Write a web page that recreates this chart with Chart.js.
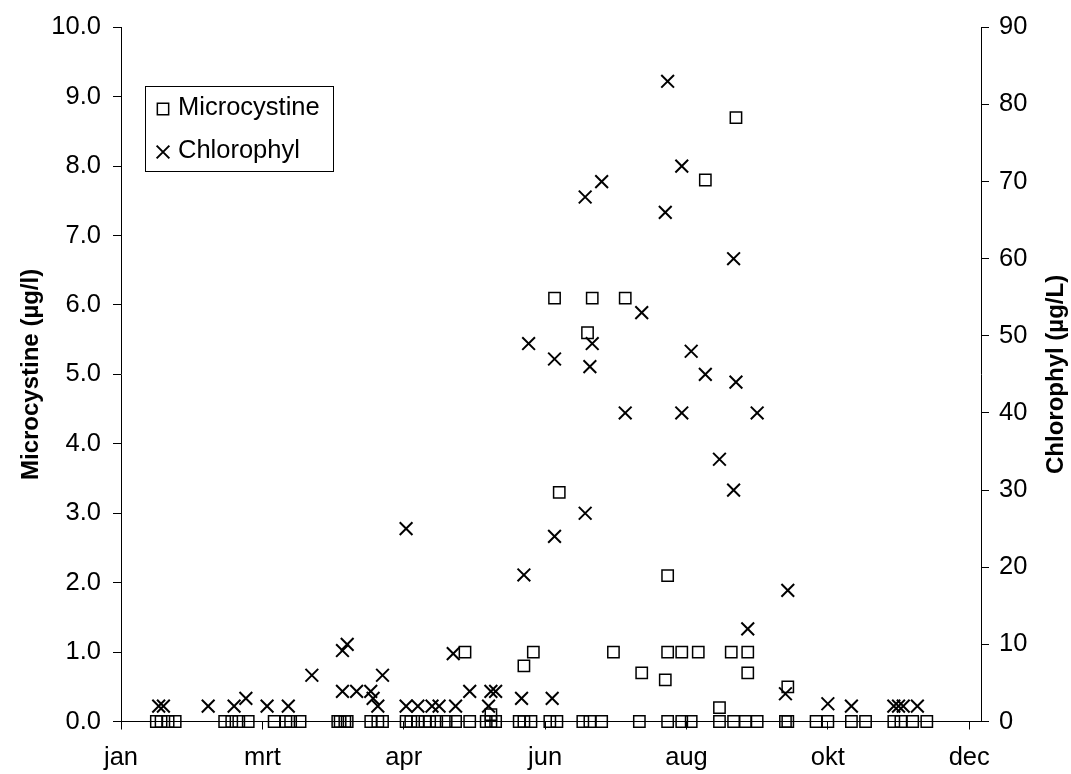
<!DOCTYPE html>
<html>
<head>
<meta charset="utf-8">
<script src="https://cdn.jsdelivr.net/npm/chart.js@4.4.0/dist/chart.umd.min.js"></script>
<style>
  html, body { margin: 0; padding: 0; background: #fff; }
  #wrap { width: 1071px; height: 774px; }
</style>
</head>
<body>
<div id="wrap"><canvas id="chart" width="1071" height="774"></canvas></div>
<script>
// x-as: dag van het jaar, label elke 60 dagen
const monthLabels = ['jan', 'mrt', 'apr', 'jun', 'aug', 'okt', 'dec'];

// Microcystine (ug/l)
const mcDays = [
  15, 17, 20, 23, 44, 47, 50, 54, 65, 70, 72, 76, 92, 93, 95, 96,
  106, 109, 111, 121, 123, 126, 129, 131, 134, 138, 142, 146, 148,
  155, 157, 157, 159, 169, 171, 171, 174, 175, 182, 184, 185, 186,
  196, 198, 199, 200, 204, 209, 214, 220, 221, 231, 232, 232, 232,
  238, 238, 242, 245, 248, 254, 254, 259, 260, 261, 265, 266, 266,
  270, 282, 283, 283, 295, 300, 310, 316, 328, 331, 336, 342
];
const mcValues = [
  0, 0, 0, 0, 0, 0, 0, 0, 0, 0, 0, 0, 0, 0, 0, 0,
  0, 0, 0, 0, 0, 0, 0, 0, 0, 0, 0, 1.0, 0,
  0, 0, 0.1, 0, 0, 0, 0.8, 0, 1.0, 0, 6.1, 0, 3.3,
  0, 5.6, 0, 6.1, 0, 1.0, 6.1, 0, 0.7, 0.6, 1.0, 2.1, 0,
  0, 1.0, 0, 1.0, 7.8, 0, 0.2, 1.0, 0, 8.7, 0, 1.0, 0.7,
  0, 0, 0, 0.5, 0, 0, 0, 0, 0, 0, 0, 0
];

// Chlorophyl (ug/L)
const chlDays = [
  16, 18, 37, 48, 53, 62, 71, 81, 94, 96, 94, 100, 106, 107, 109, 111,
  121, 121, 126, 132, 135, 141, 142, 148, 156, 157, 159, 170, 171, 173,
  183, 184, 184, 197, 197, 199, 200, 204, 214, 221, 231, 232, 238, 238,
  242, 248, 254, 260, 260, 261, 266, 270, 282, 283, 300, 310, 328, 330,
  332, 338
];
const chlValues = [
  2, 2, 2, 2, 3, 2, 2, 6, 9.2, 10, 3.9, 3.9, 3.9, 3, 2, 6,
  25, 2, 2, 2, 2, 8.8, 2, 3.9, 2, 3.9, 3.9, 3, 19, 49,
  3, 24, 47, 27, 68, 46, 49, 70, 40, 53, 66, 83, 72, 40,
  48, 45, 34, 30, 60, 44, 12, 40, 3.6, 17, 2.3, 2, 2, 2,
  2, 2
];

const yTitle = 'Microcystine (\u00b5g/l)';
const y2Title = 'Chlorophyl (\u00b5g/L)';

const FONT = 'Arial, "Liberation Sans", sans-serif';
const FONT_SIZE = 25.5;
Chart.defaults.font.family = FONT;
Chart.defaults.font.size = FONT_SIZE;
Chart.defaults.color = '#000';

const mcPoints = mcDays.map((d, i) => ({ x: d, y: mcValues[i] }));
const chlPoints = chlDays.map((d, i) => ({ x: d, y: chlValues[i] }));

function marker(ctx, style, radius, width, x, y) {
  ctx.save();
  ctx.strokeStyle = '#000';
  ctx.fillStyle = 'rgba(0,0,0,0)';
  ctx.lineWidth = width;
  Chart.helpers.drawPoint(ctx, { pointStyle: style, radius: radius, borderWidth: width, rotation: 0 }, x, y);
  ctx.restore();
}

// titels van de y-assen + legenda (rechtse titel moet van onder naar boven lezen)
const extras = {
  id: 'extras',
  afterDraw(chart) {
    const { ctx, chartArea } = chart;
    const midY = (chartArea.top + chartArea.bottom) / 2;

    ctx.save();
    ctx.font = 'bold 24px ' + FONT;
    ctx.fillStyle = '#000';
    ctx.textAlign = 'center';
    ctx.textBaseline = 'middle';
    [[31, yTitle], [1056, y2Title]].forEach(([x, t]) => {
      ctx.save();
      ctx.translate(x, midY);
      ctx.rotate(-Math.PI / 2);
      ctx.fillText(t, 0, 0);
      ctx.restore();
    });
    ctx.restore();

    // legenda
    ctx.save();
    ctx.fillStyle = '#fff';
    ctx.fillRect(145.5, 86.5, 188, 85);
    ctx.strokeStyle = '#000';
    ctx.lineWidth = 1;
    ctx.strokeRect(145.5, 86.5, 188, 85);
    ctx.restore();

    const ds = chart.data.datasets;
    marker(ctx, ds[0].pointStyle, ds[0].pointRadius, ds[0].pointBorderWidth, 163, 109);
    marker(ctx, ds[1].pointStyle, ds[1].pointRadius, ds[1].pointBorderWidth, 163, 152);

    ctx.save();
    ctx.font = FONT_SIZE + 'px ' + FONT;
    ctx.fillStyle = '#000';
    ctx.textAlign = 'left';
    ctx.textBaseline = 'middle';
    ctx.fillText(ds[0].label, 178, 108);
    ctx.fillText(ds[1].label, 178, 151);
    ctx.restore();
  }
};

const axisLine = { color: '#000', width: 1 };
const outerTicks = { drawOnChartArea: false, drawTicks: true, tickLength: 8, color: '#000', lineWidth: 1 };

new Chart(document.getElementById('chart').getContext('2d'), {
  type: 'scatter',
  data: {
    datasets: [
      {
        label: 'Microcystine',
        data: mcPoints,
        yAxisID: 'y',
        pointStyle: 'rect',
        pointRadius: 8,
        pointBorderWidth: 1.5,
        pointBorderColor: '#000',
        pointBackgroundColor: 'rgba(0,0,0,0)',
        clip: false
      },
      {
        label: 'Chlorophyl',
        data: chlPoints,
        yAxisID: 'y2',
        pointStyle: 'crossRot',
        pointRadius: 9,
        pointBorderWidth: 2,
        pointBorderColor: '#000',
        pointBackgroundColor: 'rgba(0,0,0,0)',
        clip: false
      }
    ]
  },
  options: {
    responsive: false,
    animation: false,
    events: [],
    layout: { autoPadding: false, padding: { top: 25, left: 0, right: 0, bottom: 0 } },
    plugins: { legend: { display: false }, tooltip: { enabled: false } },
    scales: {
      x: {
        type: 'linear',
        min: 0,
        max: 365,
        afterFit: s => { s.height = 52.5; },
        ticks: {
          stepSize: 60,
          includeBounds: false,
          autoSkip: false,
          maxRotation: 0,
          padding: 13,
          callback: v => monthLabels[v / 60]
        },
        grid: outerTicks,
        border: axisLine
      },
      y: {
        position: 'left',
        min: 0,
        max: 10,
        afterFit: s => { s.width = 121; },
        ticks: { stepSize: 1, padding: 12, callback: v => v.toFixed(1) },
        grid: outerTicks,
        border: axisLine
      },
      y2: {
        position: 'right',
        min: 0,
        max: 90,
        afterFit: s => { s.width = 90; },
        ticks: { stepSize: 10, padding: 10 },
        grid: outerTicks,
        border: axisLine
      }
    }
  },
  plugins: [extras]
});
</script>
</body>
</html>
